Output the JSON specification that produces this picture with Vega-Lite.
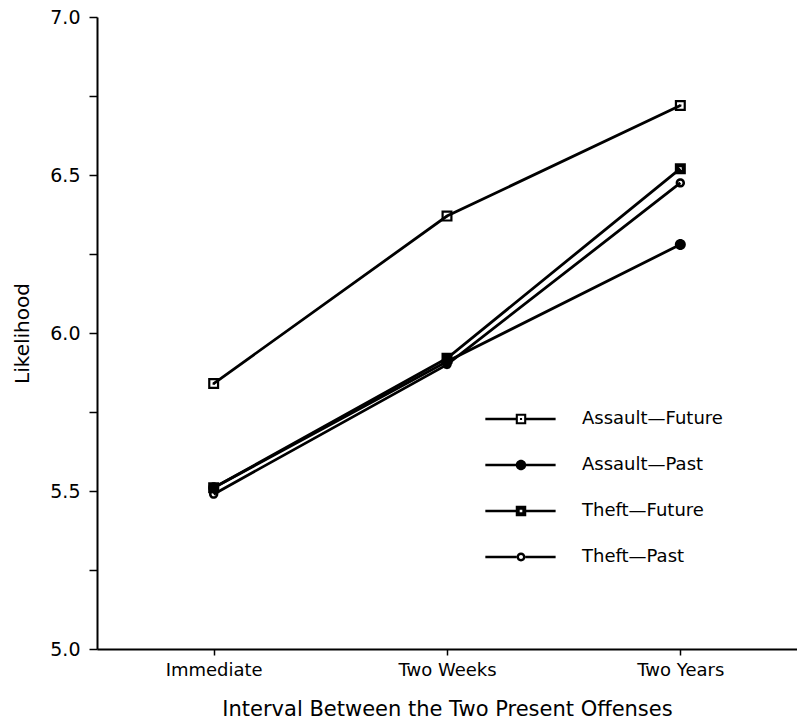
{
  "$schema": "https://vega.github.io/schema/vega-lite/v6.json",
  "width": 700,
  "height": 632,
  "autosize": {"type": "none"},
  "padding": {"left": 97, "top": 17, "right": 0, "bottom": 74},
  "background": "white",
  "config": {"view": {"stroke": null}, "font": "DejaVu Sans"},
  "data": {
    "values": [
      {"interval": "Immediate", "condition": "Assault—Future", "likelihood": 5.84},
      {"interval": "Two Weeks", "condition": "Assault—Future", "likelihood": 6.37},
      {"interval": "Two Years", "condition": "Assault—Future", "likelihood": 6.72},
      {"interval": "Immediate", "condition": "Assault—Past", "likelihood": 5.51},
      {"interval": "Two Weeks", "condition": "Assault—Past", "likelihood": 5.91},
      {"interval": "Two Years", "condition": "Assault—Past", "likelihood": 6.28},
      {"interval": "Immediate", "condition": "Theft—Future", "likelihood": 5.51},
      {"interval": "Two Weeks", "condition": "Theft—Future", "likelihood": 5.92},
      {"interval": "Two Years", "condition": "Theft—Future", "likelihood": 6.52},
      {"interval": "Immediate", "condition": "Theft—Past", "likelihood": 5.49},
      {"interval": "Two Weeks", "condition": "Theft—Past", "likelihood": 5.9},
      {"interval": "Two Years", "condition": "Theft—Past", "likelihood": 6.475}
    ]
  },
  "encoding": {
    "x": {
      "field": "interval",
      "type": "ordinal",
      "sort": ["Immediate", "Two Weeks", "Two Years"],
      "scale": {"type": "point", "padding": 0.5},
      "axis": {
        "title": "Interval Between the Two Present Offenses",
        "titleFontSize": 21,
        "titleFontWeight": "normal",
        "titleColor": "black",
        "titlePadding": 19,
        "labelFontSize": 18,
        "labelColor": "black",
        "labelAngle": 0,
        "labelPadding": 6,
        "tickSize": 6,
        "tickColor": "black",
        "tickWidth": 1.5,
        "domainColor": "black",
        "domainWidth": 2,
        "grid": false
      }
    },
    "y": {
      "field": "likelihood",
      "type": "quantitative",
      "scale": {"domain": [5, 7], "nice": false, "zero": false},
      "axis": {
        "title": "Likelihood",
        "titleFontSize": 20,
        "titleFontWeight": "normal",
        "titleColor": "black",
        "titlePadding": 17,
        "values": [5, 5.25, 5.5, 5.75, 6, 6.25, 6.5, 6.75, 7],
        "labelExpr": "datum.value % 0.5 == 0 ? format(datum.value, '.1f') : ''",
        "labelFontSize": 19,
        "labelColor": "black",
        "labelPadding": 9,
        "tickSize": 8,
        "tickColor": "black",
        "tickWidth": 1.5,
        "domainColor": "black",
        "domainWidth": 2,
        "grid": false
      }
    }
  },
  "resolve": {"scale": {"shape": "independent"}, "legend": {"shape": "independent"}},
  "layer": [
    {
      "mark": {"type": "line", "color": "black", "strokeWidth": 2.8},
      "encoding": {"detail": {"field": "condition", "type": "nominal"}}
    },
    {
      "mark": {"type": "point", "filled": true, "color": "black", "opacity": 1, "strokeWidth": 0},
      "encoding": {
        "size": {"value": 121},
        "shape": {
          "field": "condition",
          "type": "nominal",
          "scale": {
            "domain": ["Assault—Future", "Assault—Past", "Theft—Future", "Theft—Past"],
            "range": [
              "M-1,-1H1V1H-1Z M-0.6,-0.6V0.6H0.6V-0.6Z M-0.2,-0.2H0.2V0.2H-0.2Z",
              "M-1,0A1,1,0,1,1,1,0A1,1,0,1,1,-1,0Z",
              "M-1,-1H1V1H-1Z M-0.25,-0.25V0.25H0.25V-0.25Z",
              "M-0.85,0A0.85,0.85,0,1,1,0.85,0A0.85,0.85,0,1,1,-0.85,0Z M-0.38,0A0.38,0.38,0,1,0,0.38,0A0.38,0.38,0,1,0,-0.38,0Z"
            ]
          },
          "legend": null
        }
      }
    },
    {
      "transform": [{"filter": "false"}],
      "mark": {"type": "point", "filled": true, "color": "black", "opacity": 1, "strokeWidth": 0},
      "encoding": {
        "size": {"value": 110},
        "shape": {
          "field": "condition",
          "type": "nominal",
          "scale": {
            "domain": ["Assault—Future", "Assault—Past", "Theft—Future", "Theft—Past"],
            "range": [
              "M-6.8,-0.25H-1V0.25H-6.8Z M1,-0.25H6.6V0.25H1Z M-1,-1H1V1H-1Z M-0.6,-0.6V0.6H0.6V-0.6Z M-0.2,-0.2H0.2V0.2H-0.2Z",
              "M-6.8,-0.25H6.6V0.25H-6.8Z M-1,0A1,1,0,1,1,1,0A1,1,0,1,1,-1,0Z",
              "M-6.8,-0.25H-1V0.25H-6.8Z M1,-0.25H6.6V0.25H1Z M-1,-1H1V1H-1Z M-0.25,-0.25V0.25H0.25V-0.25Z",
              "M-6.8,-0.25H-0.85V0.25H-6.8Z M0.85,-0.25H6.6V0.25H0.85Z M-0.85,0A0.85,0.85,0,1,1,0.85,0A0.85,0.85,0,1,1,-0.85,0Z M-0.38,0A0.38,0.38,0,1,0,0.38,0A0.38,0.38,0,1,0,-0.38,0Z"
            ]
          },
          "legend": {
            "title": null,
            "orient": "none",
            "legendX": 415,
            "legendY": 393,
            "symbolSize": 110,
            "symbolFillColor": "black",
            "symbolStrokeWidth": 0,
            "labelFontSize": 18,
            "labelColor": "black",
            "labelOffset": 52,
            "rowPadding": 28
          }
        }
      }
    }
  ]
}
